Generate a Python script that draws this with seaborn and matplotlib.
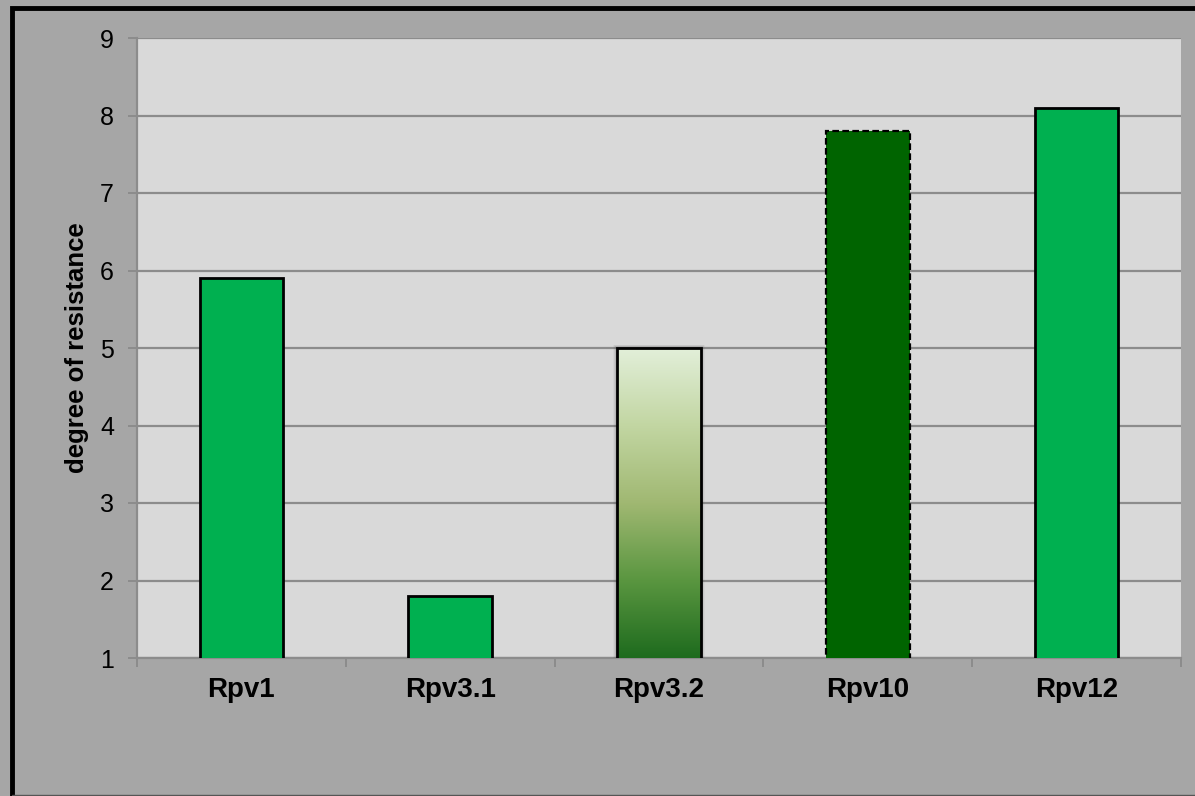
import numpy as np
import pandas as pd
import matplotlib
matplotlib.use("Agg")
import matplotlib.pyplot as plt
import matplotlib.patches as mpatches
from matplotlib.colors import LinearSegmentedColormap
import seaborn as sns

# Data
genes = ["Rpv1", "Rpv3.1", "Rpv3.2", "Rpv10", "Rpv12"]
resistance = [5.9, 1.8, 5.0, 7.8, 8.1]
bar_colors = ["#00b050", "#00b050", "#a4bc74", "#006400", "#00b050"]
y_ticks = [1, 2, 3, 4, 5, 6, 7, 8, 9]

sns.set_theme(style="white")
plt.rcParams["font.family"] = ["Liberation Sans", "DejaVu Sans"]

fig = plt.figure(figsize=(11.95, 7.96), dpi=100)
fig.patch.set_facecolor("#a6a6a6")
ax = fig.add_axes([137 / 1195, 1 - 658 / 796, (1181 - 137) / 1195, (658 - 38) / 796])
ax.set_facecolor("#d9d9d9")

df = pd.DataFrame({"gene": genes, "resistance": resistance})
sns.barplot(data=df, x="gene", y="resistance", hue="gene", palette=bar_colors,
            width=0.4, legend=False, ax=ax, zorder=3, saturation=1)

y_min, y_max = 1, 9
ax.set_ylim(y_min, y_max)
ax.set_xlim(-0.5, len(genes) - 0.5)
ax.set_yticks(y_ticks)
ax.yaxis.grid(True, color="#8c8c8c", linewidth=1.6, zorder=1)
ax.set_axisbelow(True)

# Bar outlines
for i, patch in enumerate(ax.patches):
    patch.set_edgecolor("black")
    patch.set_linewidth(2.0)
    if genes[i] == "Rpv10":
        patch.set_linestyle((0, (3, 1.5)))
        patch.set_linewidth(1.6)

# Gradient fill for Rpv3.2 with a soft shadow
gp = ax.patches[genes.index("Rpv3.2")]
x0, w = gp.get_x(), gp.get_width()
top = gp.get_y() + gp.get_height()
for k, a in enumerate([0.14, 0.10, 0.07, 0.04]):
    dx = 0.0045 * (k + 1)
    dy = 0.011 * (k + 1)
    ax.add_patch(mpatches.Rectangle((x0 - dx, y_min), w + 2 * dx, top - y_min + dy,
                                    facecolor="#303030", edgecolor="none",
                                    alpha=a, zorder=2.5))
grad_cmap = LinearSegmentedColormap.from_list(
    "greens", ["#1e6b1e", "#5a9640", "#a0b872", "#c2d6a2", "#e2efd9"])
grad = np.linspace(0, 1, 256).reshape(-1, 1)
im = ax.imshow(grad, cmap=grad_cmap, origin="lower", aspect="auto",
               extent=(x0, x0 + w, y_min, top), zorder=3.5)
im.set_clip_path(gp)
gp.set_facecolor("none")
gp.set_zorder(4)
ax.set_xlim(-0.5, len(genes) - 0.5)
ax.set_ylim(y_min, y_max)

# Axes styling
for side in ["top", "right"]:
    ax.spines[side].set_visible(False)
for side in ["left", "bottom"]:
    ax.spines[side].set_color("#8c8c8c")
    ax.spines[side].set_linewidth(1.6)
    ax.spines[side].set_zorder(2)

ax.tick_params(axis="y", which="major", direction="out", length=6.5, width=1.4,
               color="#8c8c8c", labelsize=18, labelcolor="black", pad=10, left=True)
ax.tick_params(axis="x", which="major", length=0, labelsize=20, pad=14,
               labelcolor="black")
ax.set_xticks(np.arange(-0.5, len(genes), 1.0), minor=True)
ax.tick_params(axis="x", which="minor", direction="out", length=6.5, width=1.4,
               color="#8c8c8c", bottom=True)
for lbl in ax.get_xticklabels():
    lbl.set_fontweight("bold")

ax.set_xlabel("")
ax.set_ylabel("degree of resistance", fontsize=18.5, fontweight="bold",
              labelpad=8, color="black")

# Chart frame
fig.add_artist(mpatches.Rectangle((12 / 1195, -0.01), 1.2, 1 - 7.5 / 796 + 0.01,
                                  transform=fig.transFigure, fill=False,
                                  edgecolor="black", linewidth=3.5))
fig.add_artist(plt.Line2D([12 / 1195, 1], [0.8 / 796, 0.8 / 796],
                          transform=fig.transFigure, color="#555555", linewidth=1))

fig.savefig("out.png", dpi=100, facecolor=fig.get_facecolor())
